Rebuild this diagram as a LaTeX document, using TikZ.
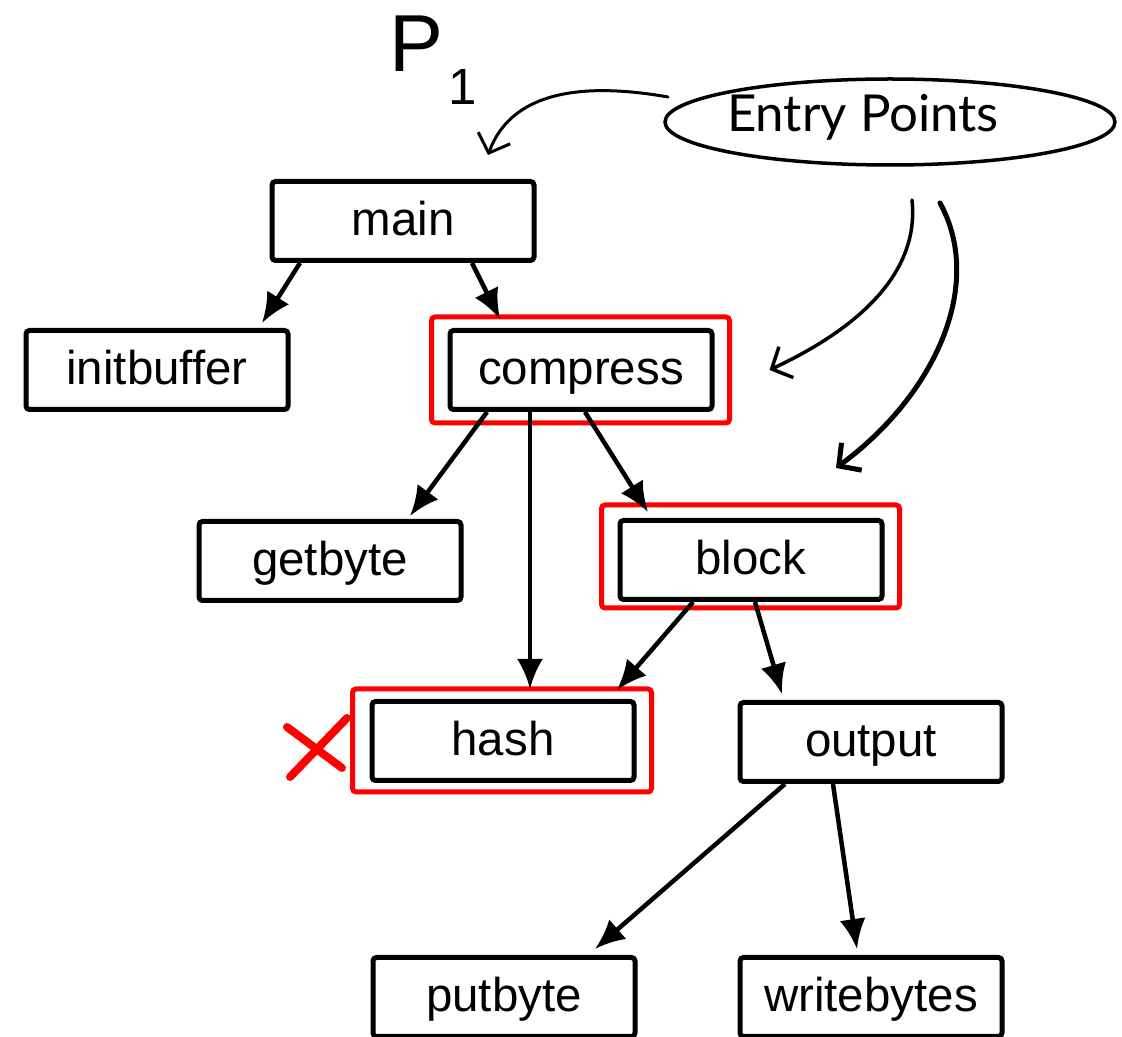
\documentclass[tikz,border=0pt]{standalone}
\usepackage{fontspec}
\setmainfont{Liberation Sans}
\newfontfamily\handfont{Lato}
\usetikzlibrary{arrows.meta,shapes.geometric}

\begin{document}
\begin{tikzpicture}[%
    func/.style={draw, line width=0.05cm, rounded corners=1pt, minimum width=2.62cm, minimum height=0.79cm, inner sep=0pt, text height=0.29cm, text depth=0pt, font=\fontsize{13.5}{16}\selectfont},
    call/.style={-{Latex[length=0.3cm,width=0.26cm]}, line width=0.045cm},
    marked/.style={draw=red, line width=0.05cm, rounded corners=1pt},
    hint/.style={-{Straight Barb[length=0.16cm,width=0.34cm]}, line width=0.03cm, line cap=round},
    ]
    \useasboundingbox (0,0) rectangle (11.22,-10.37);
    \clip (0,0) rectangle (11.22,-10.37);
    \node[func] (main) at (4.03,-2.21) {main};
    \node[func] (initbuffer) at (1.57,-3.70) {initbuffer};
    \node[func] (compress) at (5.81,-3.70) {compress};
    \node[func] (getbyte) at (3.30,-5.61) {getbyte};
    \node[func] (block) at (7.51,-5.60) {block};
    \node[func] (hash) at (5.03,-7.41) {hash};
    \node[func] (output) at (8.71,-7.42) {output};
    \node[func] (putbyte) at (5.04,-9.97) {putbyte};
    \node[func] (writebytes) at (8.71,-9.97) {writebytes};
    \draw[marked] ([shift={(-0.16,0.11)}]compress.north west) rectangle ([shift={(0.15,-0.11)}]compress.south east);
    \draw[marked] ([shift={(-0.16,0.13)}]block.north west) rectangle ([shift={(0.15,-0.06)}]block.south east);
    \draw[marked] ([shift={(-0.17,0.10)}]hash.north west) rectangle ([shift={(0.15,-0.09)}]hash.south east);
    \draw[call] ([xshift=-1.03cm]main.south) -- ([xshift=1.05cm,yshift=0.05cm]initbuffer.north);
    \draw[call] ([xshift=0.69cm]main.south) -- ([xshift=-0.81cm,yshift=0.09cm]compress.north);
    \draw[call] ([xshift=-0.94cm]compress.south) -- ([xshift=0.80cm,yshift=0.03cm]getbyte.north);
    \draw[call] ([xshift=-0.51cm]compress.south) -- ([xshift=0.27cm,yshift=0.10cm]hash.north);
    \draw[call] ([xshift=0.04cm]compress.south) -- ([xshift=-1.03cm,yshift=0.06cm]block.north);
    \draw[call] ([xshift=-0.58cm]block.south) -- ([xshift=1.14cm,yshift=0.09cm]hash.north);
    \draw[call] ([xshift=0.04cm]block.south) -- ([xshift=-0.89cm,yshift=0.06cm]output.north);
    \draw[call] ([xshift=-0.86cm]output.south) -- ([xshift=0.91cm,yshift=0.06cm]putbyte.north);
    \draw[call] ([xshift=-0.38cm]output.south) -- ([xshift=-0.14cm,yshift=0.06cm]writebytes.north);
    \node[anchor=base west, inner sep=0pt, font=\fontsize{23}{28}\selectfont] (proc) at (3.89,-0.72) {P\kern0.06em\raisebox{-0.40em}{\fontsize{14.5}{17}\selectfont 1}};
    \draw[line width=0.035cm] (8.90,-1.22) ellipse [x radius=2.25cm, y radius=0.43cm];
    \node[font=\handfont\fontsize{14.5}{18}\selectfont] (entry) at (8.63,-1.17) {Entry Points};
    \coordinate (from1) at (6.68,-0.97);
    \coordinate (from2) at (9.12,-2.00);
    \coordinate (from3) at (9.40,-2.03);
    \draw[hint] (from1) to[out=170, in=70] ([xshift=0.85cm,yshift=0.24cm]main.north);
    \draw[hint, line width=0.035cm] (from2) .. controls (9.20,-2.75) and (8.55,-3.30) .. ([xshift=0.55cm]compress.east);
    \draw[hint, line width=0.05cm] (from3) .. controls (9.85,-2.85) and (9.35,-3.95) .. ([xshift=0.85cm,yshift=0.50cm]block.north);
    \draw[red, line width=0.08cm, line cap=round] (2.87,-7.27) -- (3.42,-7.68) (3.47,-7.18) -- (2.90,-7.77);
\end{tikzpicture}
\end{document}
